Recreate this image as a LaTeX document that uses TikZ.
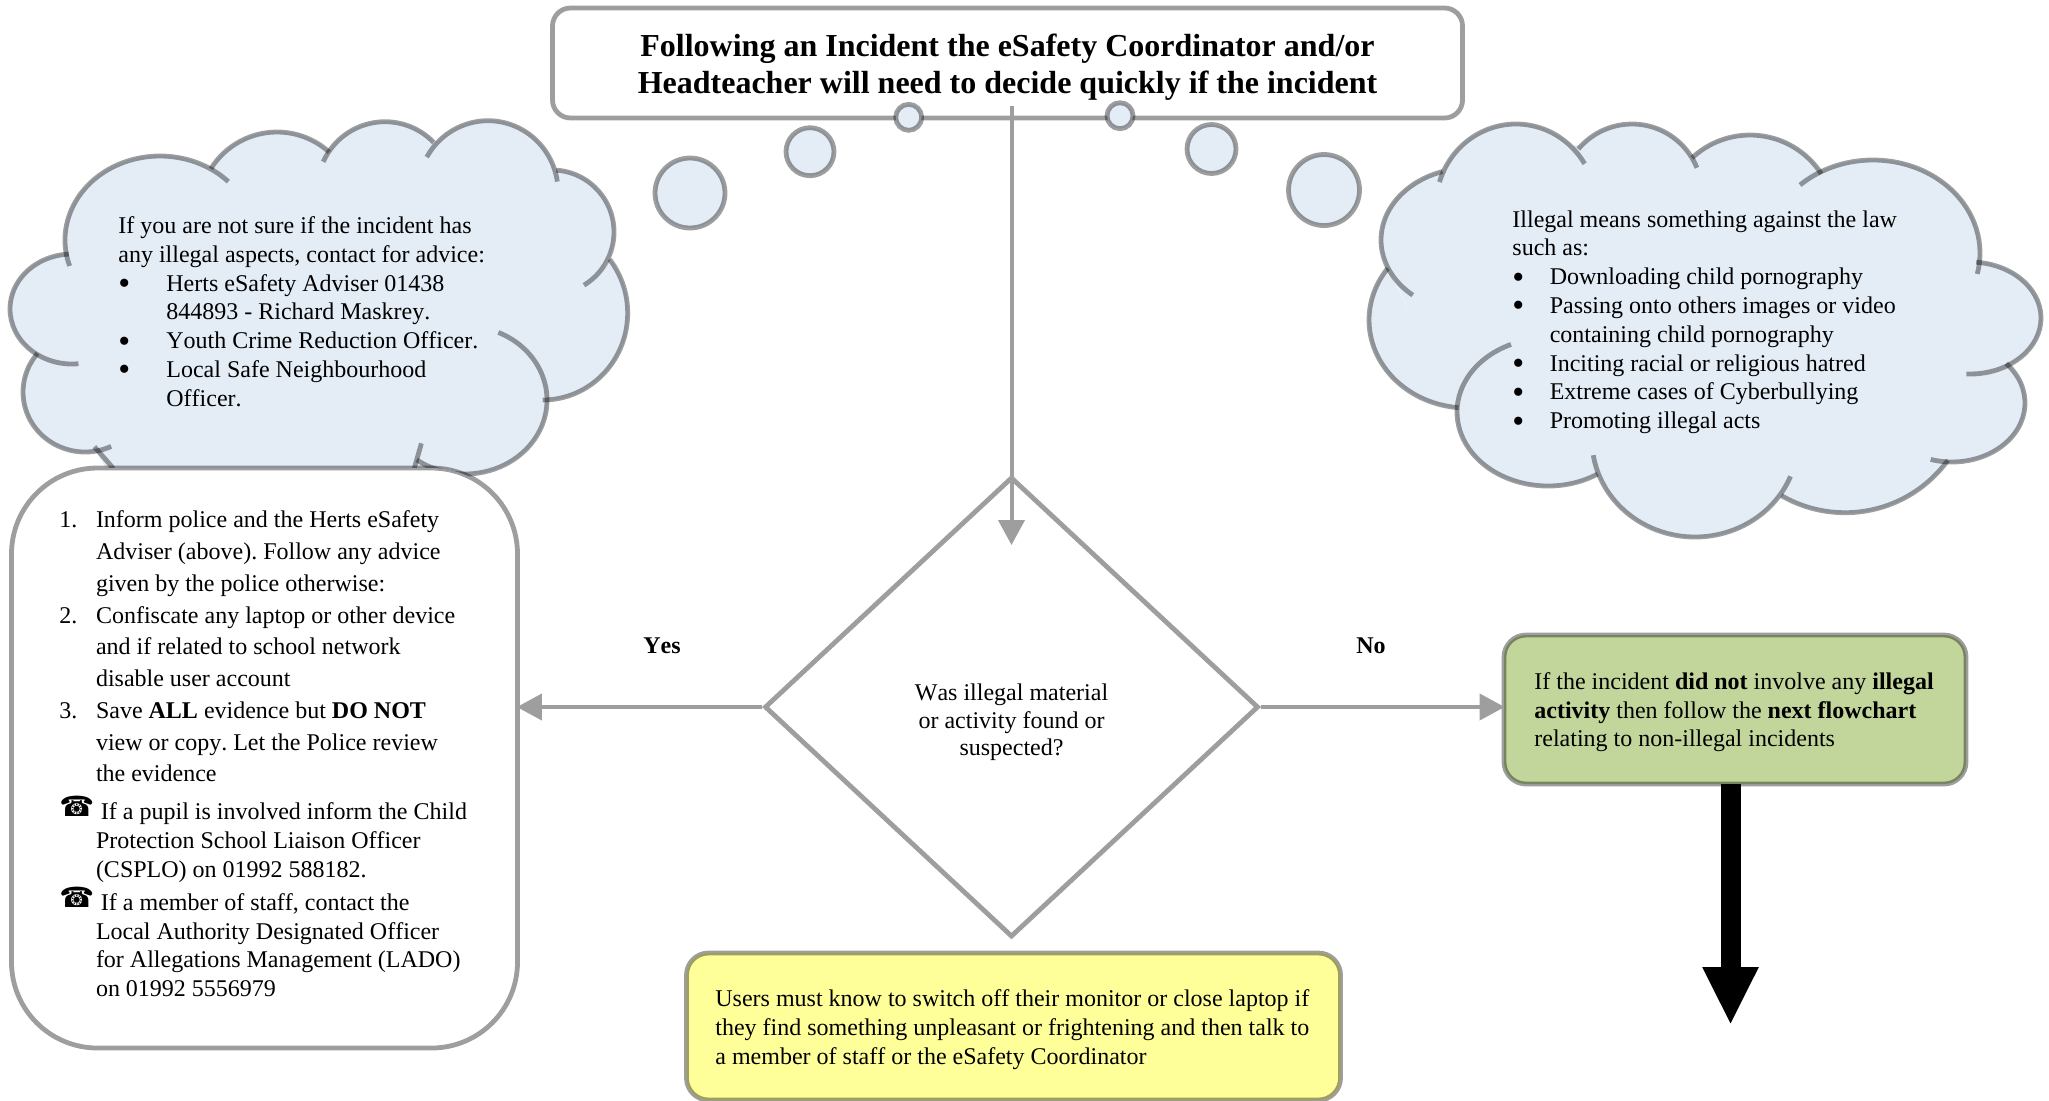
\documentclass[tikz,border=0pt]{standalone}
\usepackage{fontspec}
\setmainfont[Ligatures=NoCommon,Kerning=Off]{Liberation Serif}
\newfontfamily\phonefont{DejaVu Sans}
\usetikzlibrary{arrows.meta,shapes.geometric}

\definecolor{cloudBlue}{HTML}{E4ECF6}
\definecolor{noGreen}{HTML}{C2D69B}
\definecolor{noteYellow}{HTML}{FFFF99}

\tikzstyle{term} = [draw=black, draw opacity=.38, line width=2.4pt, rounded corners=9pt, anchor=center]
\tikzstyle{body} = [inner sep=0pt, anchor=north west, align=left, font=\fontsize{12}{14.35}\selectfont\frenchspacing]
\tikzstyle{bubble} = [ellipse, draw=black, draw opacity=.38, line width=2.4pt, fill=cloudBlue, inner sep=0pt]
\tikzstyle{cloudFill} = [fill=cloudBlue, draw=cloudBlue, line width=1pt]
\tikzstyle{cloudLine} = [draw=black, draw opacity=.38, line width=2.4pt]
\tikzstyle{grayArrow} = [draw=black!38, line width=2pt, shorten >=-1.5pt, -{Triangle[length=12.5pt,width=13pt]}]

\newcommand{\mk}[2]{\makebox[#1][l]{#2}}
\newcommand{\bul}{\smash{\raisebox{-1.7pt}{\fontsize{17}{14}\selectfont\textbullet}}}
\newcommand{\phone}{{\phonefont\fontsize{14}{14}\selectfont\raisebox{1.5pt}{☎}}}
% style, centre x, centre y, radius x, radius y, from angle, to angle
\newcommand{\lobe}[7]{\path[#1] (#2,#3) ++(#6:#4 and #5) arc[start angle=#6, end angle=#7, x radius=#4, y radius=#5];}

\newcommand{\leftLobes}[1]{%
	\lobe{#1}{160}{240}{95}{84}{162}{316}
	\lobe{#1}{277}{210}{78}{78}{212}{312}
	\lobe{#1}{385}{189.3}{67.6}{67.6}{204}{316}
	\lobe{#1}{488}{191.4}{70}{70.7}{209}{352}
	\lobe{#1}{552}{232}{62}{62}{274}{419}
	\lobe{#1}{542.7}{313}{85}{87}{322}{450}
	\lobe{#1}{465}{400}{82}{74}{294}{486}
	\lobe{#1}{85}{392}{62}{60}{65}{220}
	\lobe{#1}{72}{309}{62}{55}{84}{267}
	\path[#1] (421.4,443.3) -- (414.3,468.3);
	\path[#1] (94.4,446.7) -- (113.3,468.3);
}
\newcommand{\rightLobes}[1]{%
	\lobe{#1}{1516}{206}{80}{82}{197}{329}
	\lobe{#1}{1632}{194}{70}{70}{220}{338}
	\lobe{#1}{1750}{220}{85}{85}{227}{327}
	\lobe{#1}{1873}{253}{107}{93}{227}{373}
	\lobe{#1}{1970}{318}{71}{56}{275}{453}
	\lobe{#1}{1952}{403}{73}{59}{318}{467}
	\lobe{#1}{1845}{385.7}{127}{127}{36}{120}
	\lobe{#1}{1695}{440}{103}{97}{22}{171}
	\lobe{#1}{1548}{412}{91}{74}{57}{246}
	\lobe{#1}{1467}{320}{98}{88}{95}{216}
	\lobe{#1}{1470}{240}{89}{72}{130}{252}
}

\begin{document}
\begin{tikzpicture}[x=0.5pt, y=-0.5pt]

	\useasboundingbox (0,0) rectangle (2049,1100);

	% clouds
	\path[cloudFill] (69,254) -- (212,169) -- (330,151) -- (436,142) -- (557,172) -- (608,275) -- (548,395) -- (472,473) -- (110,473) -- (42,357) -- cycle;
	\leftLobes{cloudFill}
	\leftLobes{cloudLine}
	\path[cloudFill] (1444,177) -- (1576,146) -- (1690,157) -- (1821,174) -- (1977,262) -- (2005,365) -- (1948,460) -- (1783,495) -- (1596,473) -- (1458,410) -- (1391,270) -- cycle;
	\rightLobes{cloudFill}
	\rightLobes{cloudLine}

	\node (titleBox) [term, fill=white, minimum width=455pt, minimum height=55pt] at (1007.5,63) {};
	\node (titleText) [align=center, inner sep=0pt, font=\fontsize{16}{18.5}\selectfont\bfseries] at (1007.5,67) {Following an Incident the eSafety Coordinator and/or\\Headteacher will need to decide quickly if the incident};

	\node (bubbleLa) [bubble, minimum size=35pt] at (690,193) {};
	\node (bubbleLb) [bubble, minimum size=24pt] at (810,151.7) {};
	\node (bubbleLc) [bubble, minimum size=13pt] at (908.7,117.3) {};
	\node (bubbleRc) [bubble, minimum size=13pt] at (1120,115.7) {};
	\node (bubbleRb) [bubble, minimum size=24.5pt] at (1211.5,149) {};
	\node (bubbleRa) [bubble, minimum size=35.5pt] at (1324,190) {};

	\node (adviceText) [body] at (118,216.5) {If you are not sure if the incident has\\any illegal aspects, contact for advice:\\
		\mk{24pt}{\bul}Herts eSafety Adviser 01438\\\hspace*{24pt}844893 - Richard Maskrey.\\
		\mk{24pt}{\bul}Youth Crime Reduction Officer.\\
		\mk{24pt}{\bul}Local Safe Neighbourhood\\\hspace*{24pt}Officer.};
	\node (illegalText) [body, font=\fontsize{12}{14.4}\selectfont] at (1512,210) {Illegal means something against the law\\such as:\\
		\mk{18.7pt}{\bul}Downloading child pornography\\
		\mk{18.7pt}{\bul}Passing onto others images or video\\\hspace*{18.7pt}containing child pornography\\
		\mk{18.7pt}{\bul}Inciting racial or religious hatred\\
		\mk{18.7pt}{\bul}Extreme cases of Cyberbullying\\
		\mk{18.7pt}{\bul}Promoting illegal acts};

	\node (actionBox) [term, fill=white, rounded corners=43pt, minimum width=253pt, minimum height=290pt] at (264.5,758) {};
	\node (actionList) [body, font=\fontsize{12}{15.88}\selectfont\frenchspacing] at (59,510.5) {\mk{18.3pt}{1.}Inform police and the Herts eSafety\\\hspace*{18.3pt}Adviser (above). Follow any advice\\\hspace*{18.3pt}given by the police otherwise:\\
		\mk{18.3pt}{2.}Confiscate any laptop or other device\\\hspace*{18.3pt}and if related to school network\\\hspace*{18.3pt}disable user account\\
		\mk{18.3pt}{3.}Save \textbf{ALL} evidence but \textbf{DO NOT}\\\hspace*{18.3pt}view or copy. Let the Police review\\\hspace*{18.3pt}the evidence};
	\node (phonePupil) [body] at (59,796) {\mk{18.3pt}{\phone}\hspace{2.5pt}If a pupil is involved inform the Child\\\hspace*{18.3pt}Protection School Liaison Officer\\\hspace*{18.3pt}(CSPLO) on 01992 588182.};
	\node (phoneStaff) [body, font=\fontsize{12}{14.2}\selectfont] at (59,887) {\mk{18.3pt}{\phone}\hspace{2.5pt}If a member of staff, contact the\\\hspace*{18.3pt}Local Authority Designated Officer\\\hspace*{18.3pt}for Allegations Management (LADO)\\\hspace*{18.3pt}on 01992 5556979};

	\node (decision) [diamond, draw=black, draw opacity=.38, line width=2.4pt, fill=white, minimum width=247pt, minimum height=230pt, inner sep=0pt] at (1011.5,707) {};
	\node (decisionText) [align=center, inner sep=0pt, font=\fontsize{12}{13.8}\selectfont] at (1011.5,722.5) {Was illegal material\\or activity found or\\suspected?};

	\node (noBox) [term, fill=noGreen, rounded corners=11pt, minimum width=231pt, minimum height=74.5pt] at (1735,709.5) {};
	\node (noText) [body] at (1534,672) {If the incident \textbf{did not} involve any \textbf{illegal}\\\textbf{activity} then follow the \textbf{next flowchart}\\relating to non-illegal incidents};

	\node (userBox) [term, fill=noteYellow, rounded corners=11pt, minimum width=327pt, minimum height=73.5pt] at (1013.5,1026.5) {};
	\node (userText) [body] at (715,989.5) {Users must know to switch off their monitor or close laptop if\\they find something unpleasant or frightening and then talk to\\a member of staff or the eSafety Coordinator};

	\node (yesLabel) [font=\fontsize{12}{14}\selectfont\bfseries] at (662,646) {Yes};
	\node (noLabel) [font=\fontsize{12}{14}\selectfont\bfseries] at (1371,646) {No};

	\coordinate (titleFoot) at (1011.5,106);
	\coordinate (decisionTip) at (1011.5,542);
	\coordinate (noStart) at (1730.5,784);
	\coordinate (noEnd) at (1730.5,1025);

	\draw[grayArrow] (titleFoot) -- (decisionTip);
	\draw[grayArrow] (decision.west) -- (decision.west -| actionBox.east);
	\draw[grayArrow] (decision.east) -- (decision.east -| noBox.west);
	\draw[draw=black, line width=10pt, -{Triangle[length=29pt,width=26pt]}] (noStart) -- (noEnd);
\end{tikzpicture}
\end{document}
